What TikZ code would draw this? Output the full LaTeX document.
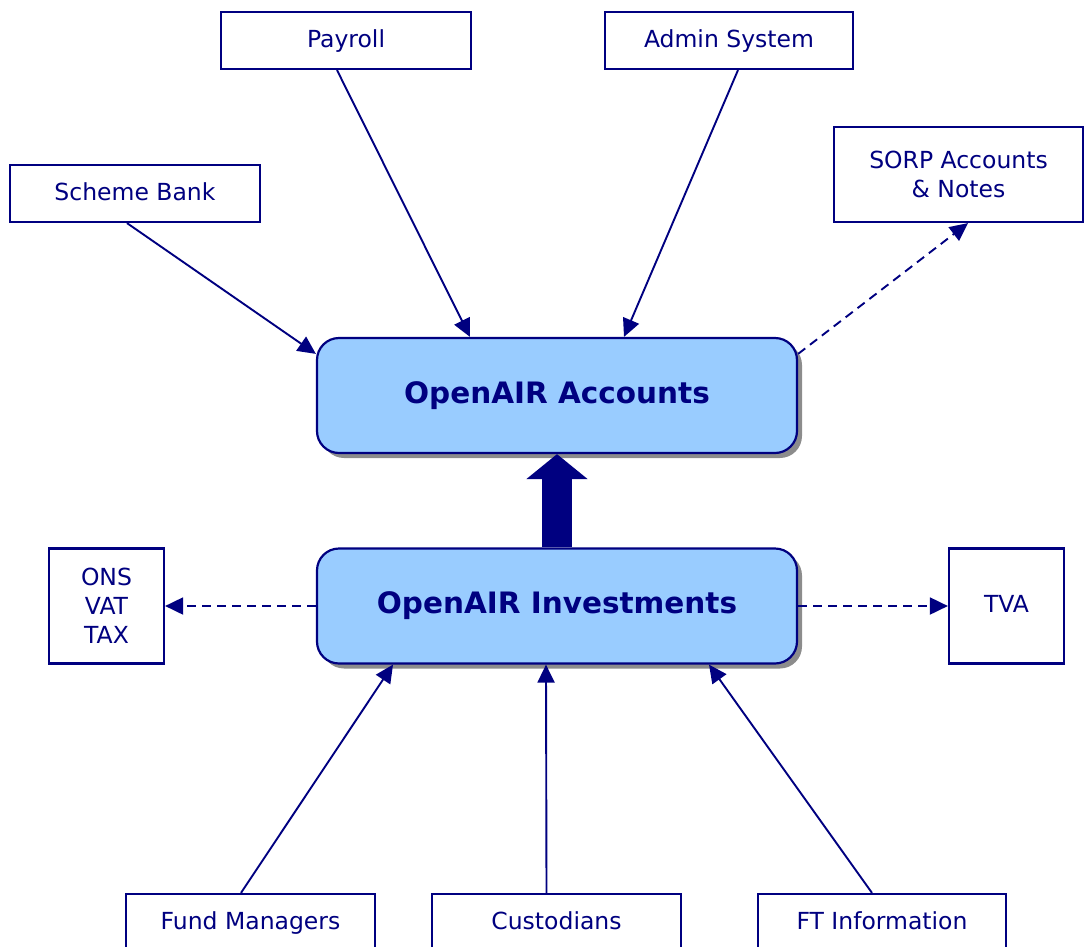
\documentclass[tikz,border=0pt]{standalone}
\usepackage{fontspec}
\setmainfont{DejaVu Sans}
\usetikzlibrary{arrows.meta,shadows}
\definecolor{navy}{HTML}{000080}
\definecolor{lblue}{HTML}{99CCFF}
\begin{document}
\begin{tikzpicture}[x=1pt,y=-1pt,
  ext/.style={draw=navy, line width=2.2pt, fill=white, text=navy, align=center,
    font=\fontsize{23.5}{29}\selectfont, inner sep=0pt},
  oneline/.style={text height=18pt, text depth=5pt},
  core/.style={draw=navy, line width=2.2pt, fill=lblue, text=navy, rounded corners=22pt,
    minimum width=480pt, minimum height=115pt, inner sep=0pt,
    font=\fontsize{29.5}{34}\selectfont\bfseries,
    drop shadow={shadow xshift=5pt, shadow yshift=-5pt, fill=gray!90, opacity=1}},
  conn/.style={draw=navy, line width=1.9pt, -{Triangle[length=18pt,width=17pt]}},
  dconn/.style={conn, dash pattern=on 9pt off 6pt}]
\useasboundingbox (0,0) rectangle (1088,946);
\clip (0,0) rectangle (1088,946);
% external boxes
\node[ext, oneline, minimum width=250pt, minimum height=57pt] (pay) at (346,40.5) {Payroll};
\node[ext, oneline, minimum width=248pt, minimum height=57pt] (adm) at (729,40.5) {Admin System};
\node[ext, oneline, minimum width=250pt, minimum height=57pt] (sb) at (135,193.5) {Scheme Bank};
\node[ext, minimum width=249pt, minimum height=95pt] (sorp) at (958.5,174.5) {SORP Accounts\\\& Notes};
\node[ext, minimum width=115pt, minimum height=115pt] (ons) at (106.5,606) {ONS\\VAT\\TAX};
\node[ext, oneline, minimum width=115pt, minimum height=115pt] (tva) at (1006.5,606) {TVA};
\node[ext, oneline, minimum width=249pt, minimum height=57pt] (fm) at (250.5,922.5) {Fund Managers};
\node[ext, oneline, minimum width=249pt, minimum height=57pt] (cu) at (556.5,922.5) {Custodians};
\node[ext, oneline, minimum width=248pt, minimum height=57pt] (ft) at (882,922.5) {FT Information};
% core boxes
\node[core] (acc) at (557,395.5) {OpenAIR Accounts};
\node[core] (inv) at (557,606) {OpenAIR Investments};
% connectors
\draw[conn] ([xshift=-8pt]sb.south) -- ([yshift=-17pt]acc.north west);
\draw[conn] ([xshift=-9pt]pay.south) -- ([xshift=-87pt]acc.north);
\draw[conn] ([xshift=9pt]adm.south) -- ([xshift=67pt]acc.north);
\draw[dconn] ([yshift=-17pt]acc.north east) -- ([xshift=9.5pt]sorp.south);
\draw[dconn] (inv.west) -- (ons.east);
\draw[dconn] (inv.east) -- (tva.west);
\draw[conn] ([xshift=-9.5pt]fm.north) -- ([xshift=-164pt]inv.south);
\draw[conn] ([xshift=-10pt]cu.north) -- ([xshift=-11pt]inv.south);
\draw[conn] ([xshift=-10pt]ft.north) -- ([xshift=152pt]inv.south);
% thick arrow
\draw[navy, line width=30pt, -{Triangle[length=25pt,width=60pt]}] (inv.north) -- (acc.south);
\end{tikzpicture}
\end{document}
